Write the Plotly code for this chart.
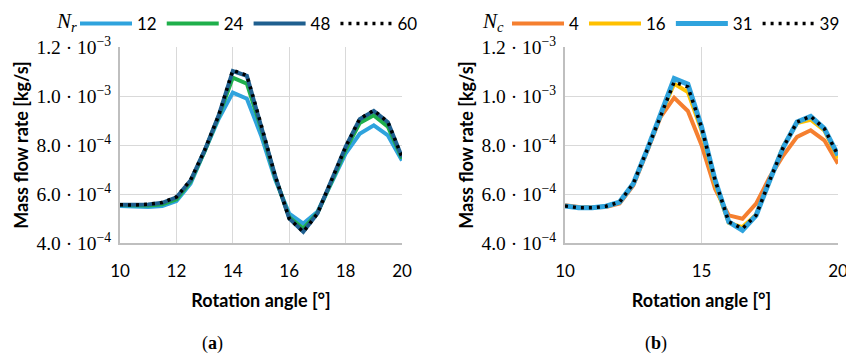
import plotly.graph_objects as go

angle = [10, 10.5, 11, 11.5, 12, 12.5, 13, 13.5, 14, 14.5, 15, 15.5, 16, 16.5, 17, 17.5, 18, 18.5, 19, 19.5, 20]

# Panel (a): N_r
nr_names = ["12", "24", "48", "60"]
nr_12 = [5.51e-4, 5.47e-4, 5.47e-4, 5.51e-4, 5.71e-4, 6.42e-4, 7.71e-4, 9.07e-4, 10.14e-4, 9.89e-4, 8.40e-4,
         6.60e-4, 5.20e-4, 4.79e-4, 5.27e-4, 6.42e-4, 7.65e-4, 8.46e-4, 8.80e-4, 8.39e-4, 7.37e-4]
nr_24 = [5.55e-4, 5.52e-4, 5.53e-4, 5.58e-4, 5.78e-4, 6.50e-4, 7.75e-4, 9.17e-4, 10.75e-4, 10.50e-4, 8.70e-4,
         6.70e-4, 5.05e-4, 4.59e-4, 5.22e-4, 6.50e-4, 7.80e-4, 8.90e-4, 9.21e-4, 8.75e-4, 7.45e-4]
nr_48 = [5.56e-4, 5.55e-4, 5.57e-4, 5.64e-4, 5.86e-4, 6.55e-4, 7.78e-4, 9.21e-4, 11.02e-4, 10.82e-4, 8.85e-4,
         6.75e-4, 5.00e-4, 4.46e-4, 5.20e-4, 6.55e-4, 7.92e-4, 9.05e-4, 9.39e-4, 8.93e-4, 7.51e-4]
nr_60 = [5.56e-4, 5.55e-4, 5.58e-4, 5.65e-4, 5.88e-4, 6.56e-4, 7.78e-4, 9.21e-4, 11.05e-4, 10.84e-4, 8.85e-4,
         6.75e-4, 5.00e-4, 4.45e-4, 5.20e-4, 6.56e-4, 7.92e-4, 9.07e-4, 9.41e-4, 8.94e-4, 7.51e-4]

# Panel (b): N_c
nc_names = ["4", "16", "31", "39"]
nc_4 = [5.54e-4, 5.47e-4, 5.46e-4, 5.47e-4, 5.61e-4, 6.35e-4, 7.71e-4, 9.14e-4, 9.93e-4, 9.39e-4, 8.00e-4,
        6.20e-4, 5.13e-4, 4.99e-4, 5.61e-4, 6.69e-4, 7.58e-4, 8.33e-4, 8.60e-4, 8.19e-4, 7.24e-4]
nc_16 = [5.51e-4, 5.44e-4, 5.44e-4, 5.50e-4, 5.67e-4, 6.42e-4, 7.78e-4, 9.21e-4, 10.50e-4, 10.16e-4, 8.60e-4,
         6.40e-4, 4.82e-4, 4.65e-4, 5.15e-4, 6.60e-4, 7.95e-4, 8.90e-4, 9.03e-4, 8.60e-4, 7.45e-4]
nc_31 = [5.51e-4, 5.44e-4, 5.44e-4, 5.50e-4, 5.67e-4, 6.42e-4, 7.78e-4, 9.21e-4, 10.71e-4, 10.48e-4, 8.75e-4,
         6.56e-4, 4.86e-4, 4.52e-4, 5.13e-4, 6.56e-4, 7.92e-4, 8.94e-4, 9.17e-4, 8.67e-4, 7.58e-4]
nc_39 = [5.51e-4, 5.44e-4, 5.44e-4, 5.50e-4, 5.67e-4, 6.42e-4, 7.78e-4, 9.21e-4, 10.57e-4, 10.37e-4, 8.73e-4,
         6.56e-4, 4.86e-4, 4.59e-4, 5.13e-4, 6.56e-4, 7.92e-4, 8.94e-4, 9.17e-4, 8.67e-4, 7.58e-4]

y_tickvals = [4.0e-4, 6.0e-4, 8.0e-4, 1.0e-3, 1.2e-3]
y_ticktext = ["4.0 · 10<sup>−4</sup>", "6.0 · 10<sup>−4</sup>", "8.0 · 10<sup>−4</sup>",
              "1.0 · 10<sup>−3</sup>", "1.2 · 10<sup>−3</sup>"]
xa_ticks = [10, 12, 14, 16, 18, 20]
xb_ticks = [10, 15, 20]

SANS = "Lato"
SERIF = "Liberation Serif"

styles_a = [
    dict(color="#2FA3DD", width=4, dash="solid"),
    dict(color="#1FAF4B", width=4, dash="solid"),
    dict(color="#1F5F8F", width=4, dash="solid"),
    dict(color="#000000", width=3.5, dash="3px,5px"),
]
styles_b = [
    dict(color="#F57F2F", width=4, dash="solid"),
    dict(color="#FFC000", width=4, dash="solid"),
    dict(color="#2FA3DD", width=5, dash="solid"),
    dict(color="#000000", width=3.5, dash="3px,5px"),
]

fig = go.Figure()
for name, ys, st in zip(nr_names, [nr_12, nr_24, nr_48, nr_60], styles_a):
    fig.add_trace(go.Scatter(x=angle, y=ys, mode="lines", name=name, line=st,
                             xaxis="x", yaxis="y", legend="legend"))
for name, ys, st in zip(nc_names, [nc_4, nc_16, nc_31, nc_39], styles_b):
    fig.add_trace(go.Scatter(x=angle, y=ys, mode="lines", name=name, line=st,
                             xaxis="x2", yaxis="y2", legend="legend2"))

ydom = [1 - 243 / 356, 1 - 47 / 356]
axis_common = dict(showgrid=True, gridcolor="#D9D9D9", gridwidth=1.3, zeroline=False,
                   showline=True, linecolor="#BFBFBF", linewidth=2, ticks="",
                   ticklabeloverflow="allow",
                   tickfont=dict(family=SANS, size=17, color="#000"))
yaxis_common = dict(axis_common, range=[4.0e-4, 1.2e-3], tickvals=y_tickvals, ticktext=y_ticktext,
                    tickfont=dict(family=SERIF, size=19.5, color="#000"), ticklabelstandoff=3,
                    title=dict(text="<b>Mass flow rate [kg/s]</b>", font=dict(family=SANS, size=18, color="#000"),
                               standoff=3))
xtitle = dict(text="<b>Rotation angle [°]</b>", font=dict(family=SANS, size=18, color="#000"), standoff=14)

legend_common = dict(orientation="h", xanchor="left", y=1 - 24 / 356, yanchor="middle",
                     font=dict(family=SANS, size=17, color="#000"), itemwidth=52, tracegroupgap=0,
                     bgcolor="rgba(0,0,0,0)")

fig.update_layout(
    width=846, height=356,
    margin=dict(l=0, r=0, t=0, b=0, autoexpand=False),
    paper_bgcolor="white", plot_bgcolor="white",
    xaxis=dict(axis_common, domain=[120 / 846, 402 / 846], range=[10, 20], tickvals=xa_ticks,
               anchor="y", title=xtitle, ticklabelstandoff=12),
    yaxis=dict(yaxis_common, domain=ydom, anchor="x"),
    xaxis2=dict(axis_common, domain=[565 / 846, 838 / 846], range=[10, 20], tickvals=xb_ticks,
                anchor="y2", title=xtitle, ticklabelstandoff=12),
    yaxis2=dict(yaxis_common, domain=ydom, anchor="x2"),
    legend=dict(legend_common, x=75 / 846),
    legend2=dict(legend_common, x=507 / 846),
    annotations=[
        dict(text="<i>N</i><sub><i>r</i></sub>", x=66 / 846, y=1 - 22 / 356, xref="paper", yref="paper",
             xanchor="center", yanchor="middle", showarrow=False,
             font=dict(family=SERIF, size=21, color="#000")),
        dict(text="<i>N</i><sub><i>c</i></sub>", x=493 / 846, y=1 - 22 / 356, xref="paper", yref="paper",
             xanchor="center", yanchor="middle", showarrow=False,
             font=dict(family=SERIF, size=21, color="#000")),
        dict(text="(<b>a</b>)", x=213 / 846, y=1 - 343 / 356, xref="paper", yref="paper",
             xanchor="center", yanchor="middle",
             showarrow=False, font=dict(family=SERIF, size=18, color="#000")),
        dict(text="(<b>b</b>)", x=656 / 846, y=1 - 343 / 356, xref="paper", yref="paper",
             xanchor="center", yanchor="middle",
             showarrow=False, font=dict(family=SERIF, size=18, color="#000")),
    ],
)

fig.write_html("out.html")
